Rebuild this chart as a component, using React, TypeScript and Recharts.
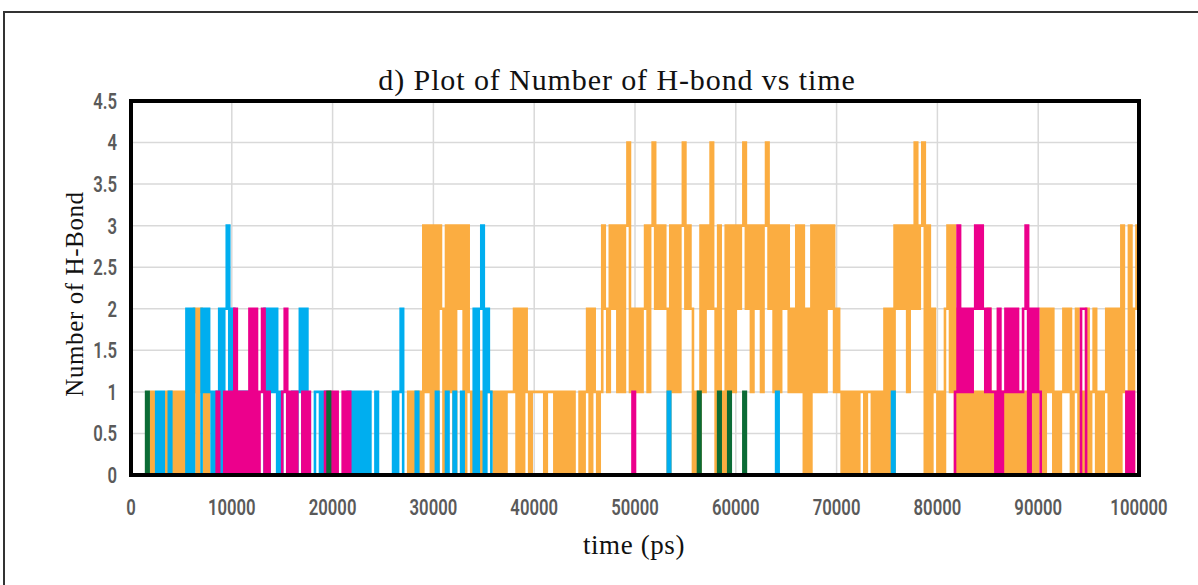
import React from 'react';
import { LineChart, Line, XAxis, YAxis, CartesianGrid } from 'recharts';

// sampled every 250 ps from 0 to 100000 ps (401 samples per series)
const TIME_STEP_PS = 250;

const ORANGE: number[] = [
  0,0,0,0,0,0,0,0,1,0, 0,0,0,0,1,0,1,0,1,0,
  1,0,1,0,1,2,0,2,1,0, 1,0,0,0,0,0,0,0,0,0,
  0,0,0,0,0,0,0,0,0,0, 0,0,0,0,0,0,0,0,0,0,
  0,0,0,0,0,0,0,0,0,0, 0,0,0,0,0,0,0,0,0,0,
  0,0,0,0,0,0,0,0,0,0, 0,0,0,0,0,0,0,0,0,0,
  0,0,0,0,0,0,0,0,0,0, 1,0,1,0,1,0,3,1,3,0,
  3,0,3,2,0,3,1,3,0,3, 2,3,0,3,1,0,1,0,1,0,
  1,1,1,1,0,1,0,1,0,1, 1,1,2,0,2,0,2,1,0,1,
  1,1,1,1,0,1,1,1,0,1, 0,1,0,1,0,1,0,0,1,0,
  1,2,0,2,1,0,1,3,2,1, 3,2,3,1,3,1,3,4,1,2,
  1,2,1,2,3,1,3,4,2,3, 2,3,2,0,3,1,3,1,3,4,
  2,3,2,0,1,0,3,1,3,2, 4,2,0,3,1,0,3,1,3,1,
  3,2,3,4,2,3,1,3,2,3, 1,3,4,2,3,1,3,1,3,2,
  3,1,2,1,3,1,3,0,2,0, 3,1,3,1,3,1,3,2,3,1,
  2,1,0,1,0,1,0,1,0,1, 1,0,1,1,0,1,0,1,0,2,
  0,2,0,3,2,3,2,3,1,3, 2,4,2,3,4,0,3,0,2,1,
  0,1,0,2,3,1,3,0,2,0, 1,0,1,0,1,0,1,0,1,0,
  2,0,1,1,0,1,0,1,0,1, 0,1,0,1,0,1,1,0,1,0,
  1,2,0,2,1,2,0,1,0,1, 2,1,2,0,1,2,0,1,0,2,
  0,1,2,0,1,0,1,2,0,2, 0,2,0,3,1,0,3,0,2,3,
  1,
];

const BLUE: number[] = [
  0,0,0,0,0,0,0,0,0,0, 1,0,1,0,0,1,0,0,0,0,
  0,0,2,0,2,0,0,0,2,1, 2,1,0,1,0,2,0,2,3,1,
  2,1,0,1,0,1,0,1,0,0, 0,0,0,2,0,2,1,2,0,1,
  0,0,0,0,1,0,1,2,0,2, 0,0,0,1,1,0,1,0,0,0,
  0,0,0,0,0,0,1,0,1,0, 1,0,1,0,1,0,0,1,0,0,
  0,0,0,0,1,0,1,2,0,0, 0,0,0,1,0,0,0,0,0,0,
  0,1,0,0,0,1,0,0,1,0, 0,1,0,0,0,0,2,0,2,3,
  0,2,1,0,0,0,0,0,0,0, 0,0,0,0,0,0,0,0,0,0,
  0,0,0,0,0,0,0,0,0,0, 0,0,0,0,0,0,0,0,0,0,
  0,0,0,0,0,0,0,0,0,0, 0,0,0,0,0,0,0,0,0,0,
  0,0,0,0,0,0,0,0,0,0, 0,0,0,1,0,0,0,0,0,0,
  0,0,0,0,0,0,0,0,0,0, 0,0,0,0,0,0,0,0,0,0,
  0,0,0,0,0,0,0,0,0,0, 0,0,0,0,0,0,1,0,0,0,
  0,0,0,0,0,0,0,0,0,0, 0,0,0,0,0,0,0,0,0,0,
  0,0,0,0,0,0,0,0,0,0, 0,0,0,0,0,0,0,0,0,0,
  0,0,1,0,0,0,0,0,0,0, 0,0,0,0,0,0,0,0,0,0,
  0,0,0,0,0,0,0,0,0,0, 0,0,0,0,0,0,0,0,0,0,
  0,0,0,0,0,0,0,0,0,0, 0,0,0,0,0,0,0,0,0,0,
  0,0,0,0,0,0,0,0,0,0, 0,0,0,0,0,0,0,0,0,0,
  0,0,0,0,0,0,0,0,0,0, 0,0,0,0,0,0,0,0,0,0,
  0,
];

const PINK: number[] = [
  0,0,0,0,0,0,0,0,0,0, 0,0,0,0,0,0,0,0,0,0,
  0,0,0,0,0,0,0,0,0,0, 0,0,0,0,1,0,0,1,0,1,
  0,2,0,1,0,1,0,2,0,2, 0,1,2,0,1,0,0,0,0,0,
  1,2,0,1,0,1,0,0,1,0, 1,0,0,0,0,0,0,1,0,1,
  0,1,0,0,1,0,1,0,0,0, 0,0,0,0,0,0,0,0,0,0,
  0,0,0,0,0,0,0,0,0,0, 0,0,0,0,0,0,0,0,0,0,
  0,0,0,0,0,0,0,0,0,0, 0,0,0,0,0,0,0,0,0,0,
  0,0,0,0,0,0,0,0,0,0, 0,0,0,0,0,0,0,0,0,0,
  0,0,0,0,0,0,0,0,0,0, 0,0,0,0,0,0,0,0,0,0,
  0,0,0,0,0,0,0,0,0,0, 0,0,0,0,0,0,0,0,0,1,
  0,0,0,0,0,0,0,0,0,0, 0,0,0,0,0,0,0,0,0,0,
  0,0,0,0,0,0,0,0,0,0, 0,0,0,0,0,0,0,0,0,0,
  0,0,0,0,0,0,0,0,0,0, 0,0,0,0,0,0,0,0,0,0,
  0,0,0,0,0,0,0,0,0,0, 0,0,0,0,0,0,0,0,0,0,
  0,0,0,0,0,0,0,0,0,0, 0,0,0,0,0,0,0,0,0,0,
  0,0,0,0,0,0,0,0,0,0, 0,0,0,0,0,0,0,0,0,0,
  0,0,0,0,0,0,0,1,3,1, 2,1,2,1,2,3,2,3,2,1,
  2,1,1,0,2,0,1,2,1,2, 1,2,1,1,2,3,0,2,1,2,
  1,0,0,0,0,0,0,0,0,0, 0,0,0,0,0,0,0,2,2,0,
  0,0,0,0,0,0,0,0,0,0, 0,0,0,0,0,1,0,1,0,0,
  0,
];

const GREEN: number[] = [
  0,0,0,0,0,0,1,0,0,0, 0,0,0,0,0,0,0,0,0,0,
  0,0,0,0,0,0,0,0,0,0, 0,0,0,0,0,0,0,0,0,0,
  0,0,0,0,0,0,0,0,0,0, 0,0,0,0,0,0,0,0,0,0,
  0,0,0,0,0,0,0,0,0,0, 0,0,0,0,0,0,0,0,1,0,
  0,0,0,0,0,0,0,0,0,0, 0,0,0,0,0,0,0,0,0,0,
  0,0,0,0,0,0,0,0,0,0, 0,0,0,0,0,0,0,0,0,0,
  0,0,0,0,0,0,0,0,0,0, 0,0,0,0,0,0,0,0,0,0,
  0,0,0,0,0,0,0,0,0,0, 0,0,0,0,0,0,0,0,0,0,
  0,0,0,0,0,0,0,0,0,0, 0,0,0,0,0,0,0,0,0,0,
  0,0,0,0,0,0,0,0,0,0, 0,0,0,0,0,0,0,0,0,0,
  0,0,0,0,0,0,0,0,0,0, 0,0,0,0,0,0,0,0,0,0,
  0,0,0,0,0,1,0,0,0,0, 0,0,0,1,0,0,0,1,0,0,
  0,0,0,1,0,0,0,0,0,0, 0,0,0,0,0,0,0,0,0,0,
  0,0,0,0,0,0,0,0,0,0, 0,0,0,0,0,0,0,0,0,0,
  0,0,0,0,0,0,0,0,0,0, 0,0,0,0,0,0,0,0,0,0,
  0,0,0,0,0,0,0,0,0,0, 0,0,0,0,0,0,0,0,0,0,
  0,0,0,0,0,0,0,0,0,0, 0,0,0,0,0,0,0,0,0,0,
  0,0,0,0,0,0,0,0,0,0, 0,0,0,0,0,0,0,0,0,0,
  0,0,0,0,0,0,0,0,0,0, 0,0,0,0,0,0,0,0,0,0,
  0,0,0,0,0,0,0,0,0,0, 0,0,0,0,0,0,0,0,0,0,
  0,
];

const X_TICKS = [0, 10000, 20000, 30000, 40000, 50000, 60000, 70000, 80000, 90000, 100000];
const Y_TICKS = [0, 0.5, 1, 1.5, 2, 2.5, 3, 3.5, 4, 4.5];

const TITLE = 'd) Plot of Number of H-bond vs time';
const X_LABEL = 'time (ps)';
const Y_LABEL = 'Number of H-Bond';

const rows = ORANGE.map((v, i) => ({
  t: i * TIME_STEP_PS,
  orange: v,
  blue: BLUE[i],
  pink: PINK[i],
  green: GREEN[i],
}));

const W = 1198;
const H = 585;
const PLOT = { left: 131, top: 101, right: 1139, bottom: 475 };
const SERIF = '"Liberation Serif", "DejaVu Serif", serif';
const TICK_FONT = 'Roboto, "Liberation Sans", sans-serif';
const TICK_FILL = '#5a5a5a';
const SQUEEZE = 0.76;
const LINE_W = 2.6;

const XTick = (props: any) => {
  const { x, y, payload } = props;
  return (
    <g transform={`translate(${x},${y})`}>
      <text transform={`scale(${SQUEEZE},1)`} textAnchor="middle" dy="0.71em" fill={TICK_FILL} fontSize={22} fontWeight={600} fontFamily={TICK_FONT}>
        {String(payload.value)}
      </text>
    </g>
  );
};

const YTick = (props: any) => {
  const { x, y, payload } = props;
  return (
    <g transform={`translate(${x},${y})`}>
      <text transform={`scale(${SQUEEZE},1)`} textAnchor="end" dy="0.36em" fill={TICK_FILL} fontSize={22} fontWeight={600} fontFamily={TICK_FONT}>
        {String(payload.value)}
      </text>
    </g>
  );
};

export default function App() {
  return (
    <div style={{ position: 'absolute', left: 0, top: 0, width: W, height: H, background: '#fff', overflow: 'hidden' }}>
      <div style={{ position: 'absolute', left: 3, top: 11, width: W + 20, height: H + 20, borderTop: '2px solid #333', borderLeft: '2px solid #333' }} />
      <div style={{ position: 'absolute', left: 0, top: 64, width: 1234, textAlign: 'center', fontFamily: SERIF, fontSize: 30, letterSpacing: 0.9, lineHeight: '32px', color: '#111' }}>{TITLE}</div>
      <div style={{ position: 'absolute', left: 75 - 150, top: 294 - 15, width: 300, height: 30, lineHeight: '30px', textAlign: 'center', transform: 'rotate(-90deg)', fontFamily: SERIF, fontSize: 25, letterSpacing: 0.6, color: '#111' }}>{Y_LABEL}</div>
      <div style={{ position: 'absolute', left: 634 - 150, top: 545 - 15, width: 300, height: 30, lineHeight: '30px', textAlign: 'center', fontFamily: SERIF, fontSize: 27, letterSpacing: 0.6, color: '#111' }}>{X_LABEL}</div>
      <div style={{ position: 'absolute', left: 0, top: 0 }}>
        <LineChart width={W} height={H} data={rows} margin={{ top: PLOT.top, right: W - PLOT.right, left: PLOT.left - 60, bottom: H - PLOT.bottom - 30 }}>
          <CartesianGrid stroke="#d9d9d9" strokeWidth={1.5} />
          <XAxis dataKey="t" type="number" domain={[0, 100000]} ticks={X_TICKS} interval={0} tickLine={false} axisLine={false} tickSize={0} tickMargin={24} height={30} tick={<XTick />} allowDataOverflow />
          <YAxis type="number" domain={[0, 4.5]} ticks={Y_TICKS} interval={0} tickLine={false} axisLine={false} tickSize={0} tickMargin={14} width={60} tick={<YTick />} allowDataOverflow />
          <Line dataKey="orange" type="stepAfter" stroke="#FBAD41" strokeWidth={LINE_W} dot={false} isAnimationActive={false} />
          <Line dataKey="blue" type="stepAfter" stroke="#00AEEF" strokeWidth={LINE_W} dot={false} isAnimationActive={false} />
          <Line dataKey="pink" type="stepAfter" stroke="#EC008C" strokeWidth={LINE_W} dot={false} isAnimationActive={false} />
          <Line dataKey="green" type="stepAfter" stroke="#0B6B35" strokeWidth={LINE_W} dot={false} isAnimationActive={false} />
        </LineChart>
      </div>
      {/* plot-area frame drawn above the series */}
      <div style={{ position: 'absolute', left: PLOT.left - 2, top: PLOT.top - 2, width: PLOT.right - PLOT.left + 4, height: PLOT.bottom - PLOT.top + 4, border: '4px solid #000', boxSizing: 'border-box', pointerEvents: 'none' }} />
    </div>
  );
}
